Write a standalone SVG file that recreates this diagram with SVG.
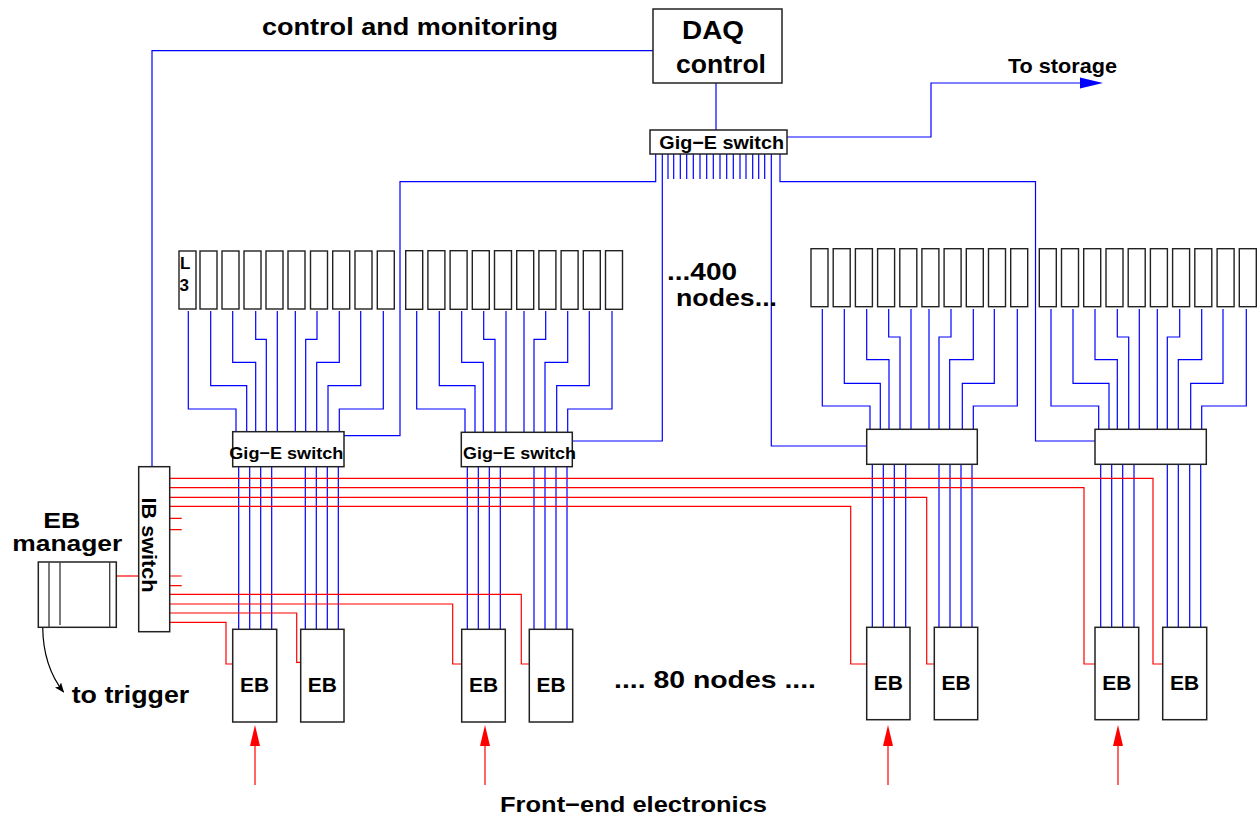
<svg xmlns="http://www.w3.org/2000/svg" width="1257" height="816" viewBox="0 0 1257 816">
<style>
.b{stroke:#0000ff;fill:none;stroke-width:1.2}
.r{stroke:#ff0000;fill:none;stroke-width:1.2}
.box{fill:#fff;stroke:#222;stroke-width:1.5}
.n{fill:#fff;stroke:#222;stroke-width:1.4}
.t{font-family:"Liberation Sans",Arial,Helvetica,sans-serif;font-weight:bold;fill:#000}
</style>
<defs>
<marker id="ah" markerWidth="10" markerHeight="8" refX="9" refY="4" orient="auto" markerUnits="userSpaceOnUse">
<path d="M0,0 L10,4 L0,8 L2,4 Z" fill="#000"/>
</marker>
</defs>
<rect width="1257" height="816" fill="#fff"/>

<g id="connectors">
<path class="b" d="M653 50.7 H152 V466.7"/>
<path class="b" d="M716 83 V130"/>
<path class="b" d="M787 137 H931 V83 H1084"/>
<polygon points="1080,77.5 1103,83 1080,88.5" fill="#0000ff"/>
<path class="b" d="M655.7 154 V181.7 H400 V435.7 H344"/>
<path class="b" d="M662.3 154 V441 H572.3"/>
<path class="b" d="M771.3 154 V446 H866.7"/>
<path class="b" d="M780 154 V181.7 H1035.5 V441 H1095"/>
<path class="b" d="M668 154V179M673.7 154V179M680.3 154V179M686.7 154V179M693.3 154V179M700 154V179M706.7 154V179M713.3 154V179M720 154V179M726.7 154V179M733.3 154V179M740 154V179M746 154V179M752.7 154V179M758.7 154V179M764.7 154V179"/>

<path class="b" d="M188.3 311V409H236V431.7M210.7 311V385.7H246.7V431.7M232.7 311V362.3H255.7V431.7M255.7 311V339.3H266.3V431.7M277.3 311V431.7M295.3 311V431.7M317 311V339.3H305.7V431.7M339.3 311V362.3H316.7V431.7M360.7 311V385.7H328V431.7M383.3 311V409H339.3V431.7"/>
<path class="b" d="M416.7 311V409H465V432.3M439.3 311V385.7H475V432.3M461.7 311V362.3H483.3V432.3M483.7 311V339.3H495V432.3M506 311V432.3M524 311V432.3M545.7 311V339.3H534V432.3M567.7 311V362.3H545V432.3M589.3 311V385.7H556.7V432.3M612 311V409H567.7V432.3"/>
<path class="b" d="M822.3 309V406H870V429.3M844.3 309V383.3H880.3V429.3M866.7 309V359.7H889V429.3M888.7 309V337H900V429.3M911 309V429.3M929 309V429.3M951 309V337H939V429.3M973.3 309V359.7H949.7V429.3M994.3 309V383.3H962.3V429.3M1017.3 309V406H973.3V429.3"/>
<path class="b" d="M1051 309V406H1098.7V429.3M1073 309V383.3H1109V429.3M1095 309V359.7H1117.3V429.3M1117.3 309V337H1128.7V429.3M1139.3 309V429.3M1157.3 309V429.3M1179.7 309V337H1167.3V429.3M1201.7 309V359.7H1178.3V429.3M1223 309V383.3H1190.7V429.3M1246.3 309V406H1201.7V429.3"/>

<path class="b" d="M238.7 466.7V631.7M249.7 466.7V629.3M260.7 466.7V631M271.7 466.7V629.3M305.3 466.7V629.3M316.3 466.7V629.3M327.3 466.7V629.3M338.3 466.7V629.3"/>
<path class="b" d="M467.3 466.7V631.7M478.3 466.7V629.3M489.3 466.7V631M500.3 466.7V629.3M534 466.7V629.3M545 466.7V629.3M556 466.7V629.3M567 466.7V629.3"/>
<path class="b" d="M872.3 464.3V629.3M883.3 464.3V627.3M894.3 464.3V629.3M905.7 464.3V627.3M939 464.3V627.3M950 464.3V627.3M961 464.3V627.3M972 464.3V627.3"/>
<path class="b" d="M1100.7 464.3V629.3M1111.7 464.3V627.3M1122.7 464.3V629.3M1134 464.3V627.3M1167.3 464.3V627.3M1178.3 464.3V627.3M1189.7 464.3V627.3M1200.7 464.3V627.3"/>

<path class="r" d="M169.7 478.3H1153V664H1162.7"/>
<path class="r" d="M169.7 487.7H1084V664H1095"/>
<path class="r" d="M169.7 497.3H926.7V664H934.3"/>
<path class="r" d="M169.7 506.3H850.7V664H866.7"/>
<path class="r" d="M169.7 518.3H181.7M169.7 529.7H181.7M169.7 576H181.7M169.7 585.7H181.7"/>
<path class="r" d="M169.7 594.3H521.3V664H529.3"/>
<path class="r" d="M169.7 604H452.7V664H461.7"/>
<path class="r" d="M169.7 613H296.7V662.3H300.7"/>
<path class="r" d="M169.7 622.3H226V664H232.7"/>
<path class="r" d="M113.3 576H138.7"/>

<path class="r" d="M255 785V744M485 785V744M888 785V744M1118 785V744"/>
<polygon points="255,725 250,746 260,746" fill="#ff0000"/>
<polygon points="485,725 480,746 490,746" fill="#ff0000"/>
<polygon points="888,725 883,746 893,746" fill="#ff0000"/>
<polygon points="1118,725 1113,746 1123,746" fill="#ff0000"/>

<path d="M42.7 627 C43 655 50 675 63.5 692" fill="none" stroke="#000" stroke-width="1.2" marker-end="url(#ah)"/>
</g>

<g id="daq">
<rect class="box" x="653" y="9" width="129" height="74"/>
<text class="t" x="682" y="39" font-size="26" textLength="62" lengthAdjust="spacingAndGlyphs">DAQ</text>
<text class="t" x="676" y="73" font-size="26" textLength="90" lengthAdjust="spacingAndGlyphs">control</text>
</g>

<g id="top-switch">
<rect class="box" x="650" y="130" width="137" height="24"/>
<text class="t" x="659.3" y="148.7" font-size="19" textLength="124.7" lengthAdjust="spacingAndGlyphs">Gig−E switch</text>
</g>

<g id="nodes-1">
<rect class="n" x="179" y="251" width="17" height="58"/>
<rect class="n" x="200" y="251" width="17" height="58"/>
<rect class="n" x="222" y="251" width="17" height="58"/>
<rect class="n" x="244" y="251" width="17" height="58"/>
<rect class="n" x="266" y="251" width="17" height="58"/>
<rect class="n" x="288" y="251" width="17" height="58"/>
<rect class="n" x="310.5" y="251" width="17" height="58"/>
<rect class="n" x="332.7" y="251" width="17" height="58"/>
<rect class="n" x="355" y="251" width="17" height="58"/>
<rect class="n" x="377.3" y="251" width="17" height="58"/>
<text class="t" x="180" y="269" font-size="17">L</text>
<text class="t" x="179.5" y="291" font-size="17">3</text>
</g>

<g id="nodes-2">
<rect class="n" x="405.7" y="250.7" width="17" height="58.6"/>
<rect class="n" x="427.9" y="250.7" width="17" height="58.6"/>
<rect class="n" x="450.1" y="250.7" width="17" height="58.6"/>
<rect class="n" x="472.3" y="250.7" width="17" height="58.6"/>
<rect class="n" x="494.5" y="250.7" width="17" height="58.6"/>
<rect class="n" x="516.7" y="250.7" width="17" height="58.6"/>
<rect class="n" x="538.9" y="250.7" width="17" height="58.6"/>
<rect class="n" x="561.1" y="250.7" width="17" height="58.6"/>
<rect class="n" x="583.3" y="250.7" width="17" height="58.6"/>
<rect class="n" x="605.5" y="250.7" width="17" height="58.6"/>
</g>

<g id="nodes-3">
<rect class="n" x="811" y="248.7" width="17" height="58"/>
<rect class="n" x="833.2" y="248.7" width="17" height="58"/>
<rect class="n" x="855.4" y="248.7" width="17" height="58"/>
<rect class="n" x="877.6" y="248.7" width="17" height="58"/>
<rect class="n" x="899.8" y="248.7" width="17" height="58"/>
<rect class="n" x="921.9" y="248.7" width="17" height="58"/>
<rect class="n" x="944.1" y="248.7" width="17" height="58"/>
<rect class="n" x="966.3" y="248.7" width="17" height="58"/>
<rect class="n" x="988.5" y="248.7" width="17" height="58"/>
<rect class="n" x="1010.7" y="248.7" width="17" height="58"/>
</g>

<g id="nodes-4">
<rect class="n" x="1039.3" y="248.7" width="17" height="58"/>
<rect class="n" x="1061.5" y="248.7" width="17" height="58"/>
<rect class="n" x="1083.7" y="248.7" width="17" height="58"/>
<rect class="n" x="1106" y="248.7" width="17" height="58"/>
<rect class="n" x="1128.2" y="248.7" width="17" height="58"/>
<rect class="n" x="1150.4" y="248.7" width="17" height="58"/>
<rect class="n" x="1172.6" y="248.7" width="17" height="58"/>
<rect class="n" x="1194.8" y="248.7" width="17" height="58"/>
<rect class="n" x="1217.1" y="248.7" width="17" height="58"/>
<rect class="n" x="1239.3" y="248.7" width="17" height="58"/>
</g>

<g id="switch-1">
<rect class="box" x="232.7" y="431.7" width="111.3" height="35"/>
<text class="t" x="229.3" y="458.5" font-size="17" textLength="114" lengthAdjust="spacingAndGlyphs">Gig−E switch</text>
</g>
<g id="switch-2">
<rect class="box" x="461.3" y="432.3" width="111" height="34.4"/>
<text class="t" x="463" y="459" font-size="17" textLength="113" lengthAdjust="spacingAndGlyphs">Gig−E switch</text>
</g>
<g id="switch-3">
<rect class="box" x="866.7" y="429.3" width="110.6" height="35"/>
</g>
<g id="switch-4">
<rect class="box" x="1095" y="429.3" width="111.3" height="35"/>
</g>

<g id="ib-switch">
<rect class="box" x="138.7" y="466.7" width="31" height="165"/>
<text class="t" transform="translate(154 545) rotate(90)" x="0" y="12.3" font-size="20" text-anchor="middle" textLength="95" lengthAdjust="spacingAndGlyphs">IB switch</text>
</g>

<g id="eb-manager">
<rect class="box" x="38.3" y="562" width="78" height="65.3"/>
<path d="M49 562V627.3M60 562V625M109.7 562V627.3" stroke="#444" stroke-width="1.4" fill="none"/>
<text class="t" x="43.3" y="528" font-size="22" textLength="37" lengthAdjust="spacingAndGlyphs">EB</text>
<text class="t" x="12.3" y="551" font-size="22" textLength="110" lengthAdjust="spacingAndGlyphs">manager</text>
</g>

<g id="eb-1"><rect class="box" x="232.7" y="629.3" width="44" height="92.7"/><text class="t" x="254.7" y="692" font-size="21" text-anchor="middle">EB</text></g>
<g id="eb-2"><rect class="box" x="300.7" y="629.3" width="43.3" height="92.7"/><text class="t" x="322.3" y="692" font-size="21" text-anchor="middle">EB</text></g>
<g id="eb-3"><rect class="box" x="461.7" y="629.3" width="43.6" height="92.7"/><text class="t" x="483.5" y="692" font-size="21" text-anchor="middle">EB</text></g>
<g id="eb-4"><rect class="box" x="529.3" y="629.3" width="43.4" height="92.7"/><text class="t" x="551" y="692" font-size="21" text-anchor="middle">EB</text></g>
<g id="eb-5"><rect class="box" x="866.7" y="627.3" width="43.3" height="92.4"/><text class="t" x="888.3" y="690" font-size="21" text-anchor="middle">EB</text></g>
<g id="eb-6"><rect class="box" x="934.3" y="627.3" width="43.4" height="92.4"/><text class="t" x="956" y="690" font-size="21" text-anchor="middle">EB</text></g>
<g id="eb-7"><rect class="box" x="1095" y="627.3" width="43.7" height="92.4"/><text class="t" x="1116.8" y="690" font-size="21" text-anchor="middle">EB</text></g>
<g id="eb-8"><rect class="box" x="1162.7" y="627.3" width="44" height="92.4"/><text class="t" x="1184.7" y="690" font-size="21" text-anchor="middle">EB</text></g>

<g id="labels">
<text class="t" x="262" y="35" font-size="24" textLength="296" lengthAdjust="spacingAndGlyphs">control and monitoring</text>
<text class="t" x="1008" y="73" font-size="21" textLength="109" lengthAdjust="spacingAndGlyphs">To storage</text>
<text class="t" x="667" y="280" font-size="24" textLength="70" lengthAdjust="spacingAndGlyphs">...400</text>
<text class="t" x="676" y="306" font-size="24" textLength="101" lengthAdjust="spacingAndGlyphs">nodes...</text>
<text class="t" x="614" y="688" font-size="24" textLength="202" lengthAdjust="spacingAndGlyphs">.... 80 nodes ....</text>
<text class="t" x="71.7" y="703" font-size="24" textLength="117.6" lengthAdjust="spacingAndGlyphs">to trigger</text>
<text class="t" x="500" y="812" font-size="22" textLength="267" lengthAdjust="spacingAndGlyphs">Front−end electronics</text>
</g>
</svg>
